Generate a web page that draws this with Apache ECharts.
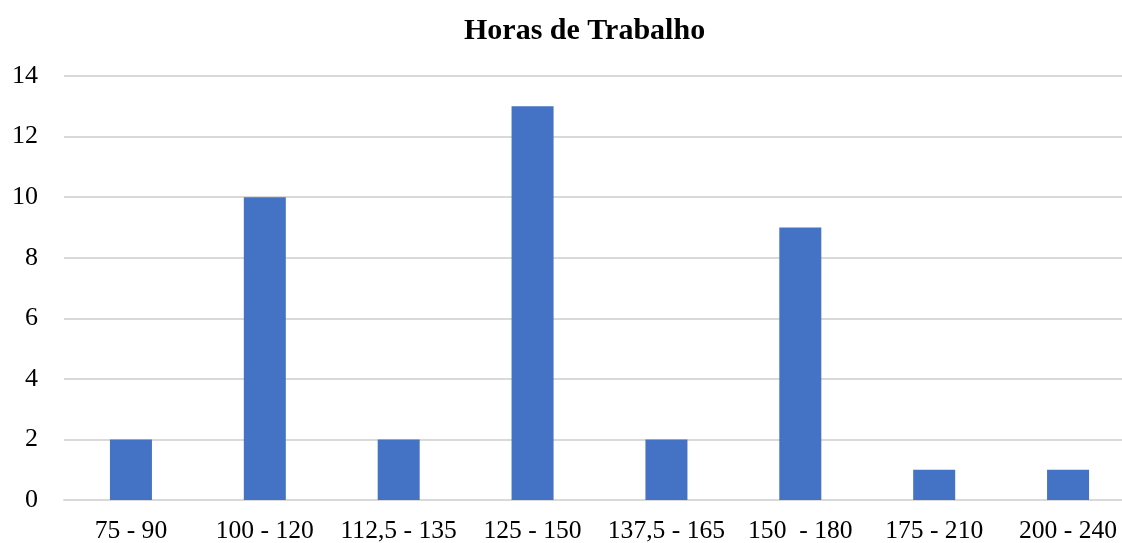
<!DOCTYPE html>
<html>
<head>
<meta charset="utf-8">
<script src="https://cdn.jsdelivr.net/npm/echarts@6/dist/echarts.min.js"></script>
<style>
  html, body { margin: 0; padding: 0; background: #fff; overflow: hidden; }
  #chart { width: 1122px; height: 543px; }
</style>
</head>
<body>
<div id="chart"></div>
<script>
// faixas de horas
const categories = ["75 - 90", "100 - 120", "112,5 - 135", "125 - 150", "137,5 - 165", "150  - 180", "175 - 210", "200 - 240"];
const values = [2, 10, 2, 13, 2, 9, 1, 1];
const yTicks = { min: 0, max: 14, interval: 2 };

const serif = "'Liberation Serif', 'Times New Roman', serif";

echarts.init(document.getElementById("chart")).setOption({
  animation: false,
  title: {
    text: "Horas de Trabalho",
    left: 459,
    top: 11,
    textStyle: { fontFamily: serif, fontSize: 30, fontWeight: "bold", color: "#000" }
  },
  // plot area runs past the right edge of the picture
  grid: { left: 64, width: 1071, top: 76, height: 424, containLabel: false, outerBoundsMode: "none" },
  xAxis: {
    type: "category",
    data: categories,
    axisLine: { show: true, lineStyle: { color: "#d9d9d9", width: 2 } },
    axisTick: { show: false },
    axisLabel: { color: "#000", fontFamily: serif, fontSize: 25.6, margin: 18, interval: 0 }
  },
  yAxis: {
    type: "value",
    min: yTicks.min,
    max: yTicks.max,
    interval: yTicks.interval,
    axisLine: { show: false },
    axisTick: { show: false },
    splitLine: { lineStyle: { color: "#d9d9d9", width: 2 } },
    axisLabel: { color: "#000", fontFamily: serif, fontSize: 26, margin: 26 }
  },
  series: [{
    type: "bar",
    data: values,
    barWidth: 42,
    itemStyle: { color: "#4472c4" }
  }]
});
</script>
</body>
</html>
